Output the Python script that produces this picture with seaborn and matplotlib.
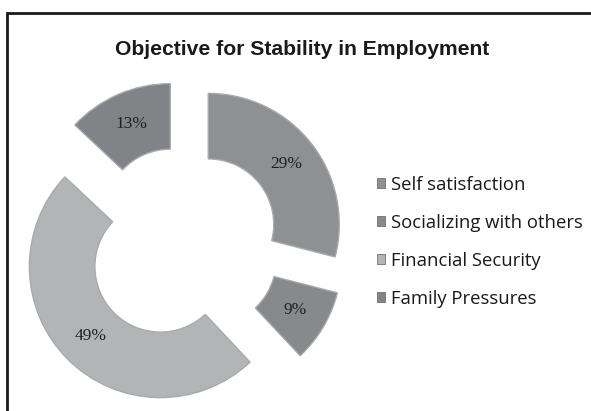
import matplotlib
matplotlib.use("Agg")
import matplotlib.pyplot as plt
from matplotlib.patches import Rectangle, Patch
import seaborn as sns

# Survey shares for the objective of staying in stable employment
categories = ["Self satisfaction", "Socializing with others", "Financial Security", "Family Pressures"]
shares = [29, 9, 49, 13]
slice_colors = ["#8f9092", "#88898b", "#b3b4b6", "#828386"]

sns.set_theme(style="white")
plt.rcParams["font.family"] = ["DejaVu Sans"]

W, H, DPI = 591, 411, 100
fig = plt.figure(figsize=(W / DPI, H / DPI), dpi=DPI)
fig.patch.set_facecolor("white")

# Donut centre and outer radius in pixels
cx, cy, R = 183, 244, 131
half = 170
ax = fig.add_axes([(cx - half) / W, (H - cy - half) / H, 2 * half / W, 2 * half / H])

wedges, _, autotexts = ax.pie(
    shares,
    colors=slice_colors,
    startangle=90,
    counterclock=False,
    explode=[0.244] * len(shares),
    radius=1.0,
    pctdistance=0.75,
    autopct=lambda p: f"{p:.0f}%",
    wedgeprops=dict(width=0.5, edgecolor="#a9aaac", linewidth=1.0),
    textprops=dict(family=["Liberation Serif"], fontsize=12.5, color="#222222"),
)
# pie() resets the limits, so fix the scale afterwards
ax.set_xlim(-half / R, half / R)
ax.set_ylim(-half / R, half / R)
ax.set_aspect("equal")
ax.axis("off")

# Outer frame around the chart
fig.add_artist(Rectangle((7 / W, -0.05), 1.2, (H - 13) / H + 0.05,
                         transform=fig.transFigure, fill=False,
                         edgecolor="#1a1a1a", linewidth=2.0))

fig.text(115 / W, 1 - 55 / H, "Objective for Stability in Employment",
         ha="left", va="baseline", fontsize=15.2, fontweight="bold",
         family=["Liberation Sans"], color="#1a1a1a")

handles = [Patch(facecolor=c, edgecolor="#6f7072", linewidth=0.6) for c in slice_colors]
fig.legend(handles, categories, loc="upper left",
           bbox_to_anchor=(377 / W, 1 - 176 / H),
           frameon=False, prop=dict(family=["Open Sans"], size=13.3),
           handlelength=0.45, handleheight=0.45, handletextpad=0.3,
           labelspacing=1.08, borderpad=0.0, borderaxespad=0.0,
           labelcolor="#1a1a1a")

fig.savefig("out.png", dpi=DPI, facecolor="white")
